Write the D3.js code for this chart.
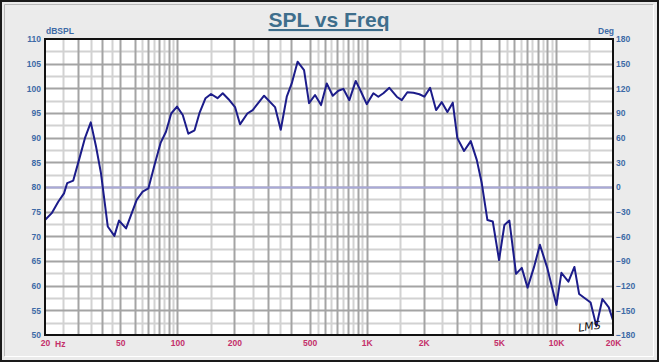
<!DOCTYPE html>
<html>
<head>
<meta charset="utf-8">
<script src="https://cdn.jsdelivr.net/npm/d3@7"></script>
<style>
  html, body { margin: 0; padding: 0; background: #fff; }
  svg { display: block; }
</style>
</head>
<body>
<script>
var freqs = [20, 21.7, 23.5, 25.2, 26.2, 28.2, 30.4, 32.5, 34.9, 37.2, 39.5, 42.9, 46.5, 49.2, 53.6,
  61, 65.6, 70.3, 76.2, 81.7, 87.1, 92.8, 99.6, 106.8, 114.3, 123.3, 130.7, 140.9, 150.6, 163,
  173.7, 186.4, 201.7, 214.3, 234.3, 250.1, 287.2, 328.1, 351.7, 378.4, 402, 431.6, 467, 496.2,
  533.7, 574.1, 615.4, 662, 708.7, 752.9, 810.1, 875.4, 933.8, 1000.7, 1085, 1152, 1225, 1318,
  1442, 1532, 1640, 1765, 1899, 2017, 2162, 2326, 2493, 2669, 2849, 3013, 3269, 3546, 3815,
  4055, 4342, 4635, 5003, 5339, 5671, 6152, 6594, 7078, 7659, 8222, 9007, 10050, 10680, 11630,
  12510, 13250, 15230, 16340, 17580, 19000, 20000];
var spl = [73.3, 74.7, 77.0, 78.7, 80.8, 81.3, 85.8, 89.9, 93.1, 88.2, 82.8, 72.0, 70.1, 73.2, 71.6,
  77.4, 79.05, 79.7, 84.8, 89.0, 91.2, 94.9, 96.3, 94.6, 90.8, 91.5, 94.9, 98.0, 98.85, 98.0,
  99.0, 97.8, 96.2, 92.7, 94.9, 95.6, 98.5, 96.2, 91.6, 98.3, 101.0, 105.4, 103.7, 97.0,
  98.65, 96.6, 101.0, 98.5, 99.5, 99.9, 97.6, 101.5, 99.3, 96.8, 99.0, 98.3, 99.0, 100.1,
  98.3, 97.6, 99.2, 99.1, 98.8, 98.3, 100.1, 95.6, 97.2, 95.2, 97.1, 89.9, 87.3, 89.3, 85.5,
  80.75, 73.3, 73.0, 65.2, 72.3, 73.2, 62.4, 63.6, 59.6, 63.8, 68.3, 63.5, 56.1, 62.6, 60.8,
  63.8, 58.3, 56.6, 51.8, 57.3, 55.6, 53.0];

var xTicks = [20, 50, 100, 200, 500, 1000, 2000, 5000, 10000, 20000];
var xTickLabels = ["20", "50", "100", "200", "500", "1K", "2K", "5K", "10K", "20K"];
var gridMajor = [30, 40, 50, 60, 70, 80, 90, 100, 200, 300, 400, 500, 600, 700, 800, 900,
  1000, 2000, 3000, 4000, 5000, 6000, 7000, 8000, 9000, 10000];
var gridMinor = [25, 35, 45, 65, 75, 85, 95, 150, 250, 350, 550, 650, 750, 850, 950,
  1500, 2500, 3500, 5500, 6500, 7500, 8500, 9500, 15000];
var dbTicks = [50, 55, 60, 65, 70, 75, 80, 85, 90, 95, 100, 105, 110];
var degTicks = [-180, -150, -120, -90, -60, -30, 0, 30, 60, 90, 120, 150, 180];

var W = 659, H = 362;
var pL = 45, pR = 613, pT = 39, pB = 335;

var svg = d3.select("body").append("svg")
  .attr("width", W).attr("height", H);

// panel
svg.append("rect").attr("x", 0).attr("y", 0).attr("width", W).attr("height", H).attr("fill", "#1a1a1a");
svg.append("rect").attr("x", 2).attr("y", 2).attr("width", W - 4).attr("height", H - 4).attr("fill", "#ebebeb");
svg.append("path").attr("d", "M4.5," + (H - 5.5) + "V4.5H" + (W - 5.5))
  .attr("fill", "none").attr("stroke", "#b8b8b8");
svg.append("path").attr("d", "M4.5," + (H - 5.5) + "H" + (W - 5.5) + "V4.5")
  .attr("fill", "none").attr("stroke", "#ffffff");

var x = d3.scaleLog().domain([20, 20000]).range([pL, pR]);
var y = d3.scaleLinear().domain([50, 110]).range([pB, pT]);
var yDeg = d3.scaleLinear().domain([-180, 180]).range([pB, pT]);

svg.append("rect").attr("x", pL).attr("y", pT)
  .attr("width", pR - pL).attr("height", pB - pT).attr("fill", "#fff");

var grid = svg.append("g");
grid.selectAll(".vmin").data(gridMinor).enter().append("line")
  .attr("x1", function(d){ return Math.round(x(d)) + 0.5; })
  .attr("x2", function(d){ return Math.round(x(d)) + 0.5; })
  .attr("y1", pT).attr("y2", pB)
  .attr("stroke", "#d2d2d2").attr("stroke-width", 2);
grid.selectAll(".hmin").data(d3.range(52.5, 110, 5)).enter().append("line")
  .attr("x1", pL).attr("x2", pR)
  .attr("y1", function(d){ return Math.round(y(d)) + 0.5; })
  .attr("y2", function(d){ return Math.round(y(d)) + 0.5; })
  .attr("stroke", "#d2d2d2").attr("stroke-width", 2);
grid.selectAll(".vmaj").data(gridMajor).enter().append("line")
  .attr("x1", function(d){ return Math.round(x(d)) + 0.5; })
  .attr("x2", function(d){ return Math.round(x(d)) + 0.5; })
  .attr("y1", pT).attr("y2", pB)
  .attr("stroke", "#a4a4a4").attr("stroke-width", 2);
grid.selectAll(".hmaj").data(dbTicks.slice(1, -1)).enter().append("line")
  .attr("x1", pL).attr("x2", pR)
  .attr("y1", function(d){ return Math.round(y(d)) + 0.5; })
  .attr("y2", function(d){ return Math.round(y(d)) + 0.5; })
  .attr("stroke", "#a4a4a4").attr("stroke-width", 2);
// zero phase line
grid.append("line").attr("x1", pL).attr("x2", pR)
  .attr("y1", Math.round(yDeg(0)) + 0.5).attr("y2", Math.round(yDeg(0)) + 0.5)
  .attr("stroke", "#a9a9d9").attr("stroke-width", 2);

// curve
var line = d3.line()
  .x(function(d, i){ return x(freqs[i]); })
  .y(function(d){ return y(d); });
svg.append("path").datum(spl).attr("d", line)
  .attr("fill", "none").attr("stroke", "#1c1c8a").attr("stroke-width", 2)
  .attr("stroke-linejoin", "round");

svg.append("rect").attr("x", pL).attr("y", pT)
  .attr("width", pR - pL).attr("height", pB - pT)
  .attr("fill", "none").attr("stroke", "#111").attr("stroke-width", 2);

// axes
var fnt = "'Liberation Sans', Arial, sans-serif";
var yAxis = d3.axisLeft(y).tickValues(dbTicks).tickSize(0).tickPadding(4);
var gy = svg.append("g").attr("transform", "translate(" + pL + ",0)").call(yAxis);
var yAxisR = d3.axisRight(yDeg).tickValues(degTicks).tickSize(0).tickPadding(3);
var gr = svg.append("g").attr("transform", "translate(" + pR + ",0)").call(yAxisR);
var xAxis = d3.axisBottom(x).tickValues(xTicks).tickSize(0).tickPadding(5)
  .tickFormat(function(d, i){ return xTickLabels[i]; });
var gx = svg.append("g").attr("transform", "translate(0," + pB + ")").call(xAxis);

[gy, gr, gx].forEach(function(g){
  g.select(".domain").remove();
  g.selectAll("text").attr("font-family", fnt).attr("font-size", 8.5).attr("font-weight", "bold");
});
gy.selectAll("text").attr("fill", "#3d6aa6");
gr.selectAll("text").attr("fill", "#3d6aa6");
gx.selectAll("text").attr("fill", "#c4306a");

svg.append("text").attr("x", 55).attr("y", 346.5).text("Hz")
  .attr("font-family", fnt).attr("font-size", 8.5).attr("font-weight", "bold").attr("fill", "#c4306a");
svg.append("text").attr("x", 46).attr("y", 34).text("dBSPL")
  .attr("font-family", fnt).attr("font-size", 8.5).attr("font-weight", "bold").attr("fill", "#3d6aa6");
svg.append("text").attr("x", 598).attr("y", 34).text("Deg")
  .attr("font-family", fnt).attr("font-size", 8.5).attr("font-weight", "bold").attr("fill", "#3d6aa6");

// title
svg.append("text").attr("x", 329).attr("y", 27).attr("text-anchor", "middle")
  .text("SPL vs Freq")
  .attr("font-family", fnt).attr("font-size", 21).attr("font-weight", "bold")
  .attr("fill", "#3e6e8c").attr("text-decoration", "underline");

// signature
svg.append("text").attr("x", 578).attr("y", 330).text("LMS")
  .attr("font-family", "'DejaVu Sans', sans-serif").attr("font-size", 11)
  .attr("font-style", "italic").attr("fill", "#111")
  .attr("transform", "rotate(-8,590,326)");
</script>
</body>
</html>
